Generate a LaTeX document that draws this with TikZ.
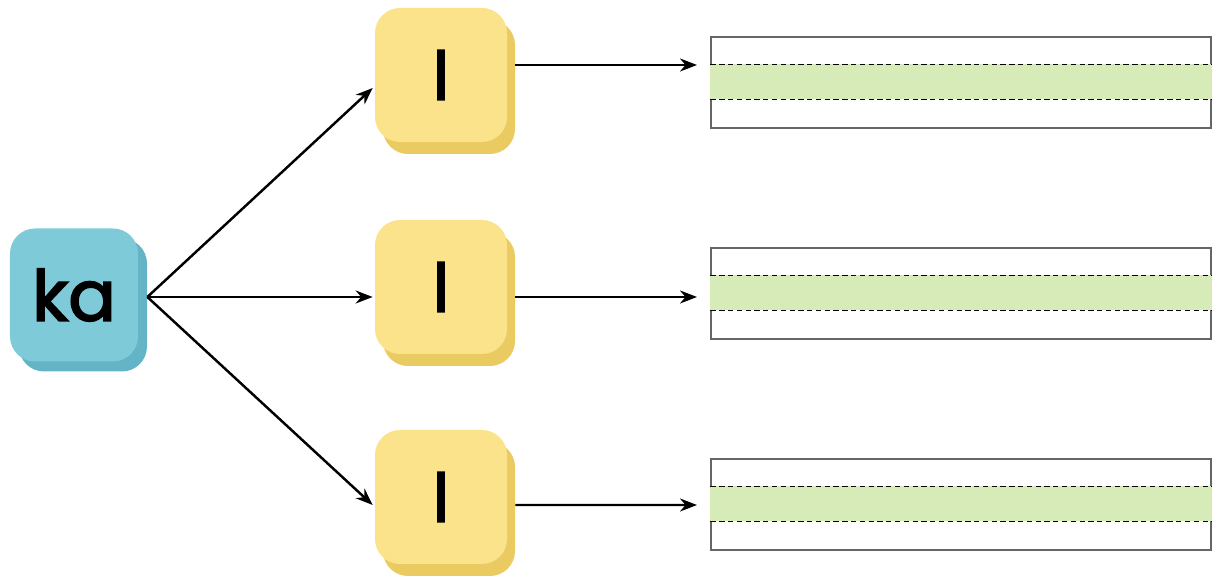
\documentclass[tikz,border=0pt]{standalone}
\usepackage{fontspec}
\setmainfont{Poppins}
\newfontfamily\tilefont{Poppins}[FakeBold=2.5]
\usepackage{tikz}
\usetikzlibrary{arrows.meta,shadows,calc}
\definecolor{tileblue}{HTML}{7FCAD9}
\definecolor{tileblueshadow}{HTML}{62B4C6}
\definecolor{tileyellow}{HTML}{FBE38C}
\definecolor{tileyellowshadow}{HTML}{E9CB62}
\definecolor{bandgreen}{HTML}{D6EBB7}
\tikzset{
  tileA/.style={
    shape = rectangle,
    rounded corners = 0.5cm,
    fill = tileblue,
    minimum width = 2.56cm,
    minimum height = 2.66cm,
    font = \fontsize{40}{46}\tilefont,
    drop shadow = {shadow xshift=0.18cm, shadow yshift=-0.2cm, fill=tileblueshadow, opacity=1}
  },
  tileB/.style={
    shape = rectangle,
    rounded corners = 0.5cm,
    fill = tileyellow,
    minimum width = 2.64cm,
    minimum height = 2.68cm,
    font = \fontsize{38}{44}\tilefont,
    drop shadow = {shadow xshift=0.16cm, shadow yshift=-0.24cm, fill=tileyellowshadow, opacity=1}
  },
  writebox/.style={
    shape = rectangle,
    draw = black!60,
    line width = 0.6pt,
    minimum width = 10cm,
    minimum height = 1.82cm
  },
  guide/.style={
    densely dashed,
    line width = 0.5pt
  },
  link/.style={
    -{Stealth[length=3.4mm,width=2.6mm]},
    line width = 1.4pt
  }
}

\begin{document}
\begin{tikzpicture}
  \useasboundingbox (0,0) rectangle (24.28,11.52);
  % source tile
  \node[tileA] (ka) at (1.48,5.62) {ka};
  % target tiles
  \node[tileB] (l1) at (8.82,10.02) {l};
  \node[tileB] (l2) at (8.82,5.78) {l};
  \node[tileB] (l3) at (8.82,1.58) {l};
  % writing lines
  \foreach \i/\y in {1/9.87,2/5.65,3/1.43} {
    \node[writebox] (w\i) at (19.22,\y) {};
    \fill[bandgreen] ($(w\i.north west)+(0,-0.56)$) rectangle ($(w\i.north east)+(0,-1.26)$);
    \draw[guide] ($(w\i.north west)+(0,-0.56)$) -- ($(w\i.north east)+(0,-0.56)$);
    \draw[guide] ($(w\i.north west)+(0,-1.26)$) -- ($(w\i.north east)+(0,-1.26)$);
  }
  \coordinate (e1) at (13.94,10.22);
  \coordinate (e2) at (13.94,5.58);
  \coordinate (e3) at (13.94,1.42);
  \coordinate (s) at ($(ka.east)+(0.18,-0.04)$);
  \draw[link] (s) -- ($(l1.west)+(-0.04,-0.26)$);
  \draw[link] (s) -- ($(l2.west)+(-0.04,-0.2)$);
  \draw[link] (s) -- ($(l3.west)+(-0.04,-0.16)$);
  \draw[link] ($(l1.east)+(0.16,0.2)$) -- (e1);
  \draw[link] ($(l2.east)+(0.16,-0.2)$) -- (e2);
  \draw[link] ($(l3.east)+(0.16,-0.16)$) -- (e3);
\end{tikzpicture}
\end{document}
